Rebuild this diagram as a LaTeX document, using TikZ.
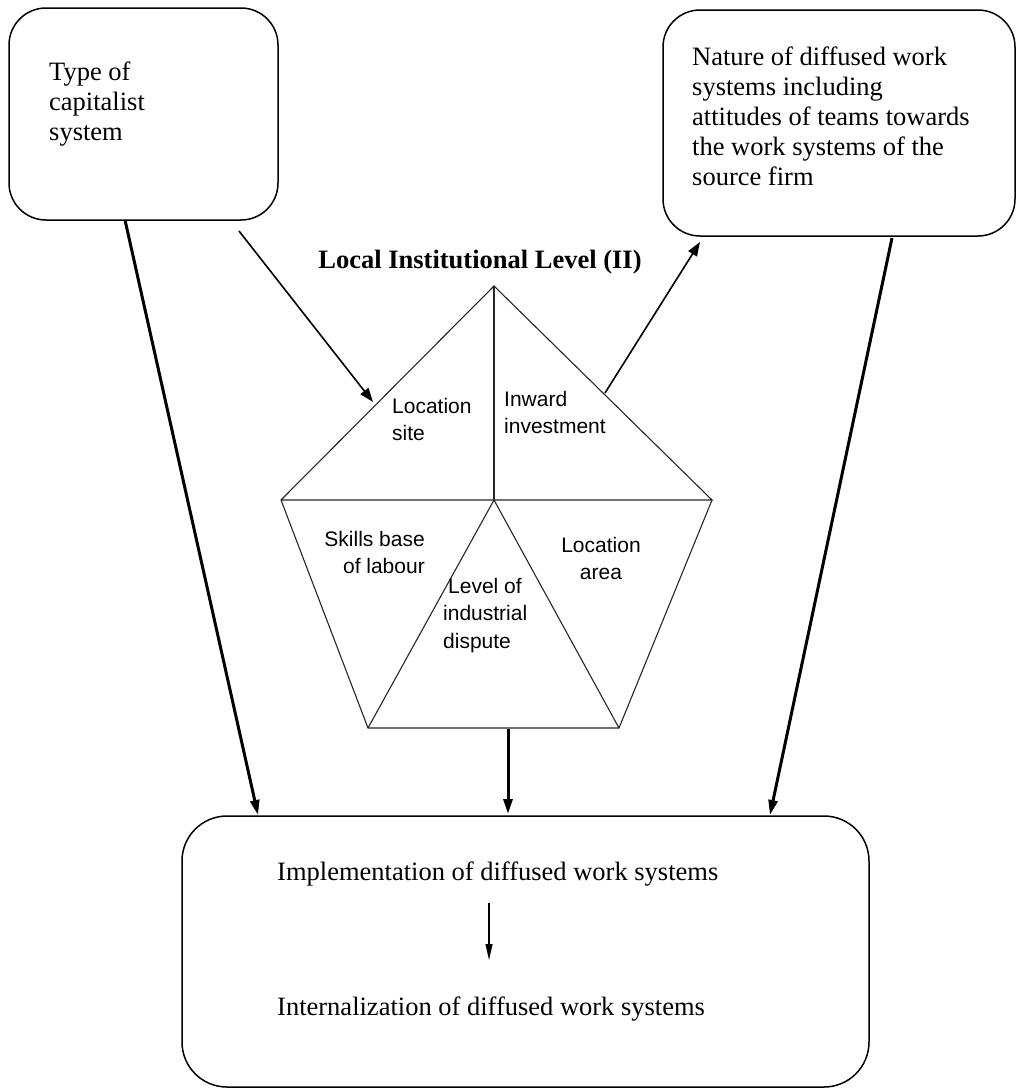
\documentclass[tikz,border=0pt]{standalone}
\usepackage{fontspec}
\setmainfont{Liberation Serif}
\newfontfamily\arialfont{Liberation Sans}
\usetikzlibrary{arrows.meta,calc}
\begin{document}
\begin{tikzpicture}[x=1pt,y=-1pt,
  rbox/.style={draw, line width=1.5pt, inner sep=0pt},
  serif/.style={font=\fontsize{26.5}{30}\selectfont, align=left, inner sep=0pt},
  sanslabel/.style={font=\arialfont\fontsize{21}{27.5}\selectfont, inner sep=0pt},
  bigarrow/.style={-{Triangle[length=15pt,width=9pt]}, line width=3pt},
  thinarrow/.style={-{Triangle[length=14pt,width=10pt]}, line width=1.6pt},
  smallarrow/.style={-{Triangle[length=16pt,width=7pt]}, line width=1.2pt},
  pent/.style={line width=1.1pt, draw=black!85}]
\useasboundingbox (0,0) rectangle (1016,1090);

% boxes
\node[rbox, rounded corners=37pt, minimum width=269pt, minimum height=212pt] (b1) at (143.5,114) {};
\node[rbox, rounded corners=37pt, minimum width=352pt, minimum height=226pt] (b2) at (839,123) {};
\node[rbox, rounded corners=45pt, minimum width=687pt, minimum height=271pt] (b3) at (525.5,951.5) {};

% box texts
\node[serif, anchor=north west] (t1) at (49,61.5) {Type of\\capitalist\\system};
\node[serif, anchor=north west] (t2) at (692,46.5) {Nature of diffused work\\systems including\\attitudes of teams towards\\the work systems of the\\source firm};
\node[serif, anchor=base west] (impl) at (277,880) {Implementation of diffused work systems};
\node[serif, anchor=base west] (intl) at (277,1015) {Internalization of diffused work systems};

% title
\node[font=\bfseries\fontsize{26.5}{30}\selectfont, inner sep=0pt, anchor=base] (title) at (480,268) {Local Institutional Level (II)};

% pentagon
\coordinate (A) at (494,286);
\coordinate (L) at (281,500);
\coordinate (R) at (712,500);
\coordinate (C) at (494,500);
\coordinate (BL) at (368,728);
\coordinate (BR) at (619,728);
\draw[pent] (L) -- (A) -- (R) -- (L);
\draw[pent] (A) -- (C);
\draw[pent] (L) -- (BL) -- (BR) -- (R);
\draw[pent] (BL) -- (C) -- (BR);

% pentagon labels
\node[sanslabel, align=left, anchor=north west] (ls) at (392,398) {Location\\site};
\node[sanslabel, align=left, anchor=north west] (ii) at (504,391) {Inward\\investment};
\node[sanslabel, align=right, anchor=north east] (sb) at (425,531) {Skills base\\of labour};
\node[sanslabel, align=center, anchor=north] (la) at (601,537) {Location\\area};
\node[sanslabel, align=left, anchor=north west] (li) at (443,578) {\hspace*{5pt}Level of\\industrial\\dispute};

% connector end points
\coordinate (s1) at (125,220);
\coordinate (e1) at (258,815);
\coordinate (s2) at (892,238);
\coordinate (e2) at (770,815);
\coordinate (s3) at (508,729);
\coordinate (e3) at (508,814);
\coordinate (s4) at (239,231);
\coordinate (e4) at (373,402);
\coordinate (s5) at (605,393);
\coordinate (e5) at (700,242);
\coordinate (s6) at (489,903);
\coordinate (e6) at (489,960);

\draw[bigarrow] (s1) -- (e1);
\draw[bigarrow] (s2) -- (e2);
\draw[bigarrow] (s3) -- (e3);
\draw[thinarrow] (s4) -- (e4);
\draw[thinarrow] (s5) -- (e5);
\draw[smallarrow] (s6) -- (e6);
\end{tikzpicture}
\end{document}
